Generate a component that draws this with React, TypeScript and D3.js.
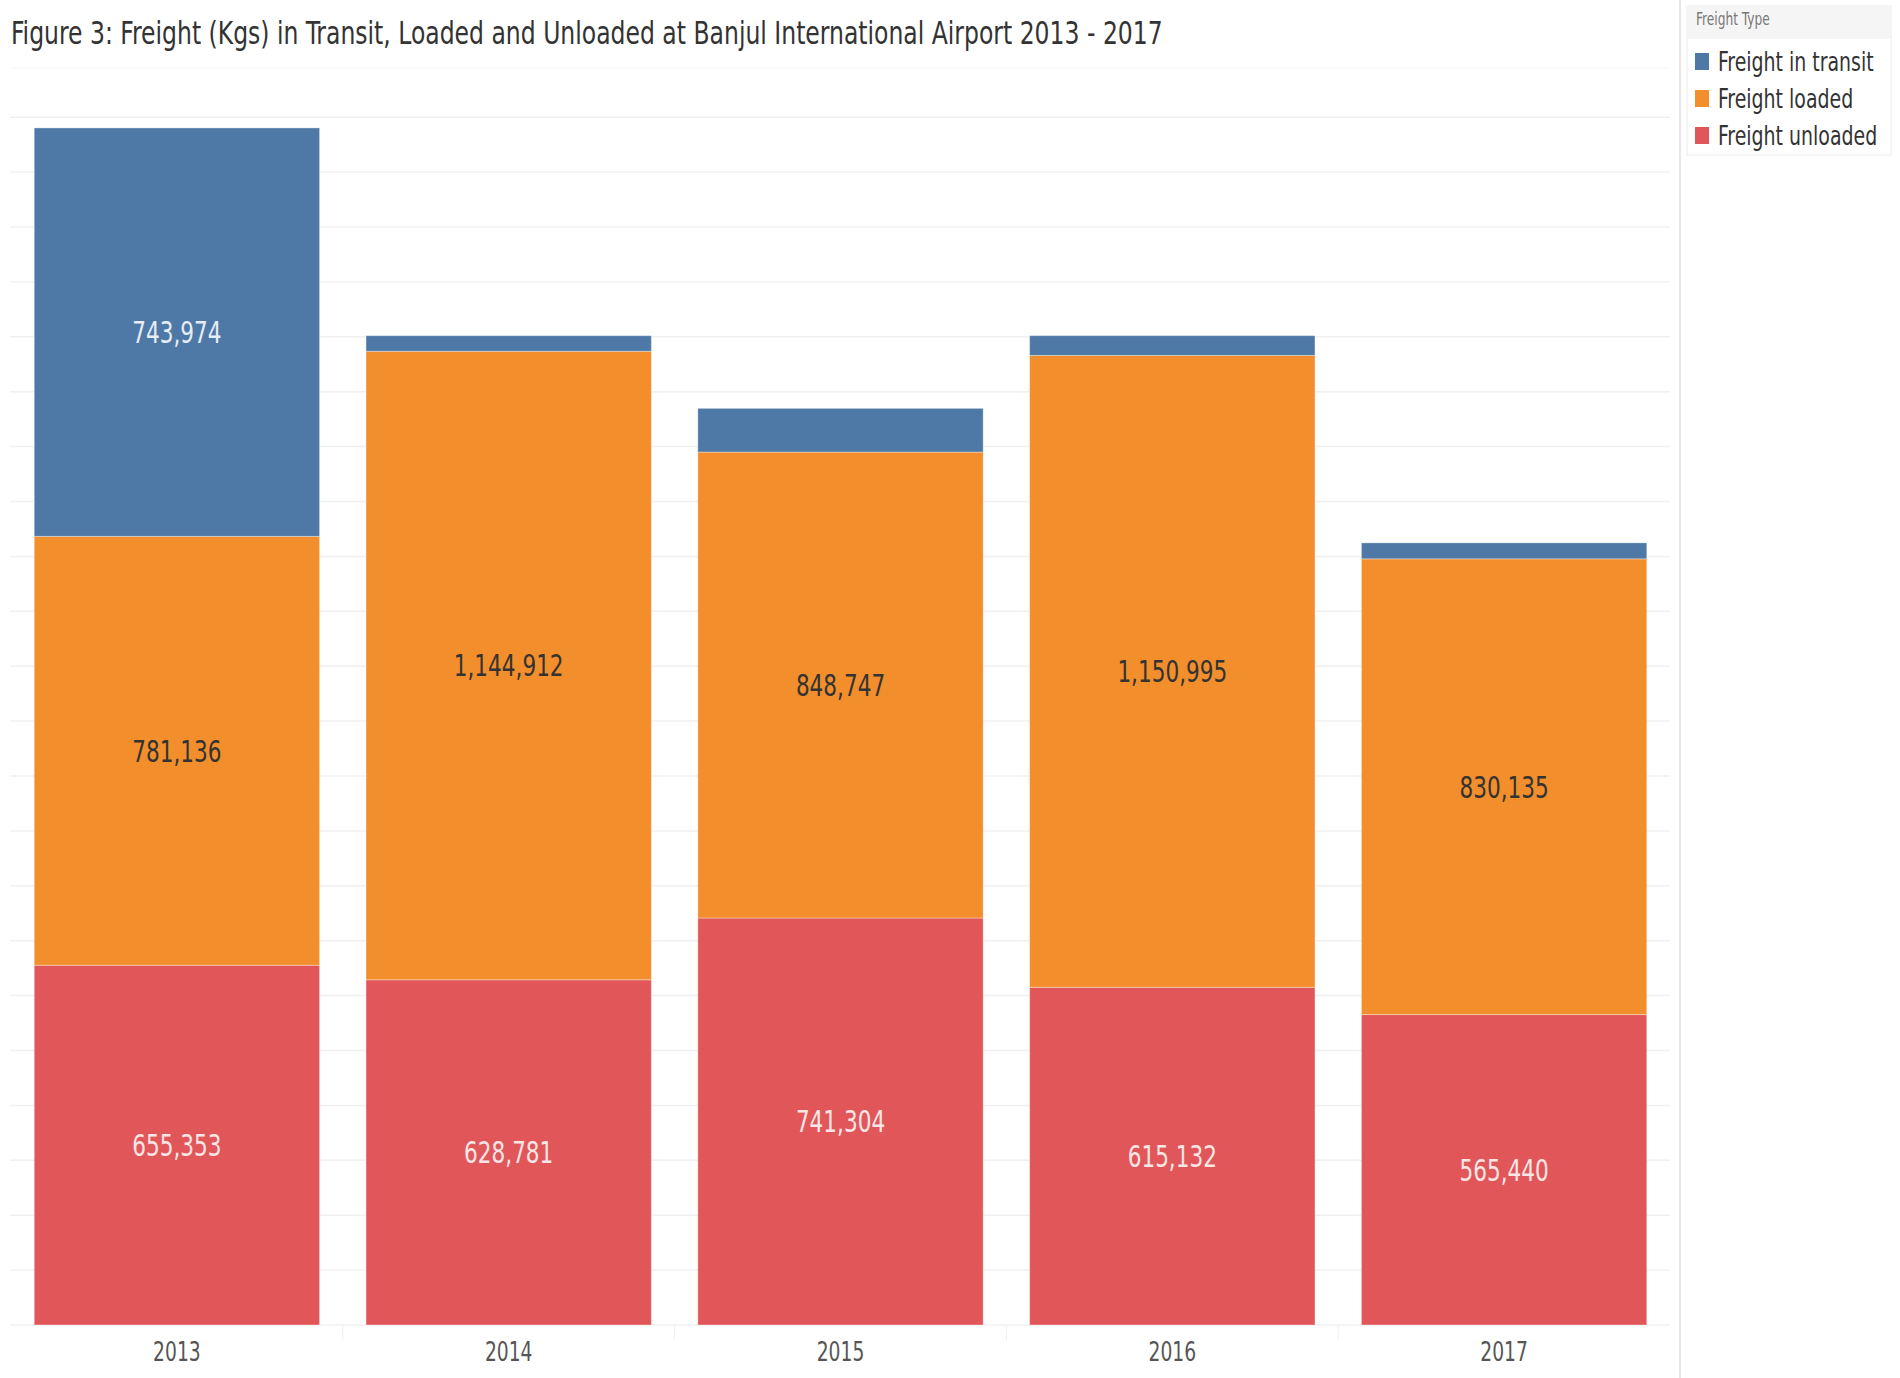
import React from "react";
import { scaleBand, scaleLinear, stack, format, range } from "d3";

// Freight (Kgs) at Banjul International Airport
const years = ["2013", "2014", "2015", "2016", "2017"];
const freightTransit = [743974, 28300, 79600, 36000, 29100];
const freightLoaded = [781136, 1144912, 848747, 1150995, 830135];
const freightUnloaded = [655353, 628781, 741304, 615132, 565440];

const seriesKeys = ["unloaded", "loaded", "transit"];
const legendItems = [
  { key: "transit", label: "Freight in transit" },
  { key: "loaded", label: "Freight loaded" },
  { key: "unloaded", label: "Freight unloaded" },
];
const colors: Record<string, string> = {
  transit: "#4e79a7",
  loaded: "#f28e2b",
  unloaded: "#e15759",
};
const labelColors: Record<string, string> = {
  transit: "#e6edf5",
  loaded: "#333333",
  unloaded: "#fbe6e6",
};

const width = 1900;
const height = 1378;
const font = "'DejaVu Sans Condensed', 'DejaVu Sans', sans-serif";

// condensed text: squeeze horizontally around its anchor point
// (tableau's font is narrower than anything installed)
function CText(props: any) {
  const { x, y, sx = 0.8, children, ...rest } = props;
  return (
    <text transform={`translate(${x},${y}) scale(${sx},1)`} fontFamily={font} {...rest}>
      {children}
    </text>
  );
}

export default function App() {
  const rows = years.map((y, i) => ({
    year: y,
    transit: freightTransit[i],
    loaded: freightLoaded[i],
    unloaded: freightUnloaded[i],
  }));
  const stacked = stack<any>().keys(seriesKeys)(rows);

  const xScale = scaleBand().domain(years).range([11, 1670]).paddingInner(0.14).paddingOuter(0.07);
  const yScale = scaleLinear().domain([0, 2200000]).range([1325, 117.2]);
  const fmt = format(",");
  const gridValues = range(0, 2200001, 100000);

  return (
    <div style={{ position: "absolute", left: 0, top: 0 }}>
      <svg width={width} height={height} style={{ display: "block", background: "#fff" }}>
        {/* title */}
        <CText x={11} y={44} sx={0.817} fontSize={32} fill="#333">
          Figure 3: Freight (Kgs) in Transit, Loaded and Unloaded at Banjul International Airport 2013 - 2017
        </CText>

        {/* pane top */}
        <line x1={10} x2={1670} y1={68} y2={68} stroke="#f7f7f7" />
        {/* gridlines */}
        {gridValues.map((v) => (
          <line key={v} x1={10} x2={1670} y1={yScale(v)} y2={yScale(v)} stroke="#f0f0f0" strokeWidth={1.5} />
        ))}
        {/* band separators in axis */}
        {years.slice(1).map((y) => {
          const xx = (xScale(y) as number) - (xScale.step() * xScale.paddingInner()) / 2;
          return <line key={y} x1={xx} x2={xx} y1={1326} y2={1340} stroke="#f0f0f0" />;
        })}

        {/* bars */}
        {stacked.map((layer) =>
          layer.map((d, i) => {
            const x = xScale(years[i]) as number;
            const y0 = yScale(d[1]);
            const y1 = yScale(d[0]);
            const val = d[1] - d[0];
            return (
              <g key={layer.key + years[i]}>
                <rect
                  x={x}
                  y={y0}
                  width={xScale.bandwidth()}
                  height={y1 - y0}
                  fill={colors[layer.key]}
                  stroke="#ffffff"
                  strokeOpacity={0.35}
                  strokeWidth={1}
                />
                {y1 - y0 > 60 && (
                  <CText
                    x={x + xScale.bandwidth() / 2}
                    y={(y0 + y1) / 2}
                    dy="0.36em"
                    textAnchor="middle"
                    fontSize={30}
                    fill={labelColors[layer.key]}
                  >
                    {fmt(val)}
                  </CText>
                )}
              </g>
            );
          })
        )}

        {/* x axis labels */}
        {years.map((y) => (
          <CText
            key={y}
            x={(xScale(y) as number) + xScale.bandwidth() / 2}
            y={1361}
            textAnchor="middle"
            fontSize={26}
            fill="#555"
          >
            {y}
          </CText>
        ))}

        {/* separator between chart and legend */}
        <line x1={1680} x2={1680} y1={0} y2={height} stroke="#e6e6e6" strokeWidth={2} />

        {/* legend */}
        <rect x={1687} y={6} width={204} height={149} fill="#fff" stroke="#ececec" />
        <rect x={1687} y={6} width={204} height={33} fill="#f5f5f5" />
        <CText x={1696} y={25} fontSize={17} fill="#777">
          Freight Type
        </CText>
        {legendItems.map((it, i) => (
          <g key={it.key} transform={`translate(1695, ${53 + i * 37})`}>
            <rect x={0} y={0} width={14} height={17} fill={colors[it.key]} />
            <CText x={23} y={18} sx={0.81} fontSize={26} fill="#333">
              {it.label}
            </CText>
          </g>
        ))}
      </svg>
    </div>
  );
}
